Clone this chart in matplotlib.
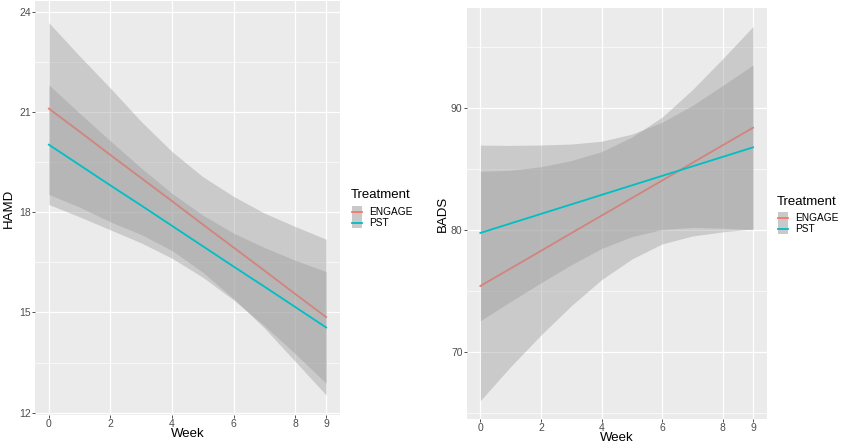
import matplotlib
matplotlib.use("Agg")
import matplotlib.pyplot as plt
from matplotlib.lines import Line2D
from matplotlib.patches import Rectangle

plt.rcParams['font.family'] = ['Liberation Sans', 'DejaVu Sans']

weeks = [0, 1, 2, 3, 4, 5, 6, 7, 8, 9]
groups = ['ENGAGE', 'PST']
colors = {'ENGAGE': '#F8766D', 'PST': '#00BFC4'}

# HAMD (left panel)
hamd_fit = {
    'ENGAGE': [21.10, 20.41, 19.71, 19.02, 18.33, 17.63, 16.94, 16.25, 15.55, 14.86],
    'PST':    [20.02, 19.41, 18.80, 18.20, 17.59, 16.98, 16.37, 15.77, 15.16, 14.55],
}
hamd_upper = {
    'ENGAGE': [23.67, 22.67, 21.71, 20.71, 19.81, 19.06, 18.47, 17.97, 17.57, 17.19],
    'PST':    [21.81, 20.96, 20.13, 19.32, 18.56, 17.91, 17.37, 16.94, 16.56, 16.22],
}
hamd_lower = {
    'ENGAGE': [18.53, 18.15, 17.71, 17.33, 16.85, 16.20, 15.41, 14.53, 13.53, 12.53],
    'PST':    [18.23, 17.86, 17.47, 17.08, 16.62, 16.05, 15.37, 14.60, 13.76, 12.88],
}

# BADS (right panel)
bads_fit = {
    'ENGAGE': [75.43, 76.87, 78.31, 79.76, 81.20, 82.64, 84.08, 85.53, 86.97, 88.41],
    'PST':    [79.78, 80.56, 81.34, 82.12, 82.90, 83.68, 84.46, 85.24, 86.02, 86.80],
}
bads_upper = {
    'ENGAGE': [84.83, 84.92, 85.21, 85.71, 86.45, 87.64, 89.28, 91.53, 94.07, 96.71],
    'PST':    [86.98, 86.96, 86.99, 87.07, 87.30, 87.88, 88.86, 90.24, 91.87, 93.56],
}
bads_lower = {
    'ENGAGE': [66.03, 68.82, 71.41, 73.81, 75.95, 77.64, 78.88, 79.53, 79.87, 80.11],
    'PST':    [72.58, 74.16, 75.69, 77.17, 78.50, 79.48, 80.06, 80.24, 80.17, 80.04],
}

x_ticks = [0, 2, 4, 6, 8, 9]
hamd_ticks = [12, 15, 18, 21, 24]
hamd_minor = [13.5, 16.5, 19.5, 22.5]
bads_ticks = [70, 80, 90]
bads_minor = [65, 75, 85, 95]

W, H = 842, 444
fig = plt.figure(figsize=(W / 100, H / 100), dpi=100)
ax1 = fig.add_axes([35 / W, 1 - 415 / H, 305 / W, 414 / H])
ax2 = fig.add_axes([466.7 / W, 1 - 419.3 / H, 300 / W, 411 / H])


def draw_panel(ax, fit, upper, lower, yticks, yminor, ylim, ylabel,
               xlab_y, ylab_x):
    ax.set_facecolor('#EBEBEB')
    for s in ax.spines.values():
        s.set_visible(False)
    z = 2
    for g in groups:
        ax.fill_between(weeks, lower[g], upper[g], color='#999999', alpha=0.4,
                        linewidth=0, zorder=z)
        ax.plot(weeks, fit[g], color=colors[g], lw=1.3, zorder=z + 0.5)
        z += 1
    ax.set_xlim(-0.45, 9.45)
    ax.set_ylim(*ylim)
    ax.set_xticks(x_ticks)
    ax.set_yticks(yticks)
    ax.set_yticks(yminor, minor=True)
    ax.grid(True, which='major', color='white', lw=0.9, zorder=0)
    ax.grid(True, which='minor', axis='y', color='white', lw=0.45, zorder=0)
    ax.set_axisbelow(True)
    ax.tick_params(axis='both', which='major', direction='out', length=2,
                   width=0.6, color='#333333', labelcolor='#4D4D4D',
                   labelsize=7.5, pad=1)
    ax.tick_params(axis='y', which='minor', length=0)
    ax.set_xlabel('Week', fontsize=9.5, va='center')
    ax.xaxis.set_label_coords(0.5, xlab_y)
    ax.set_ylabel(ylabel, fontsize=9.5, va='center')
    ax.yaxis.set_label_coords(ylab_x, 0.5)


draw_panel(ax1, hamd_fit, hamd_upper, hamd_lower, hamd_ticks, hamd_minor,
           (11.93, 24.32), 'HAMD', -0.046, -0.087)
draw_panel(ax2, bads_fit, bads_upper, bads_lower, bads_ticks, bads_minor,
           (64.5, 98.2), 'BADS', -0.0467, -0.078)


def add_legend(x, y_title, y_rows, x_text):
    # x, y in pixels from the top-left corner
    fig.text(x / W, 1 - y_title / H, 'Treatment', fontsize=9.5,
             ha='left', va='center')
    for g, yr in zip(groups, y_rows):
        fig.add_artist(Rectangle(((x + 1) / W, 1 - (yr + 5.5) / H),
                                 10 / W, 11 / H, transform=fig.transFigure,
                                 facecolor='#C9C9C9', edgecolor='none'))
        fig.add_artist(Line2D([(x + 1) / W, (x + 11) / W],
                              [1 - yr / H, 1 - yr / H],
                              transform=fig.transFigure, color=colors[g],
                              lw=1.3))
        fig.text(x_text / W, 1 - yr / H, g, fontsize=7.3, ha='left',
                 va='center')


add_legend(351, 195, [211.7, 222.7], 369)
add_legend(777, 201.7, [217.7, 228.7], 795)

fig.savefig('out.png', dpi=100)
